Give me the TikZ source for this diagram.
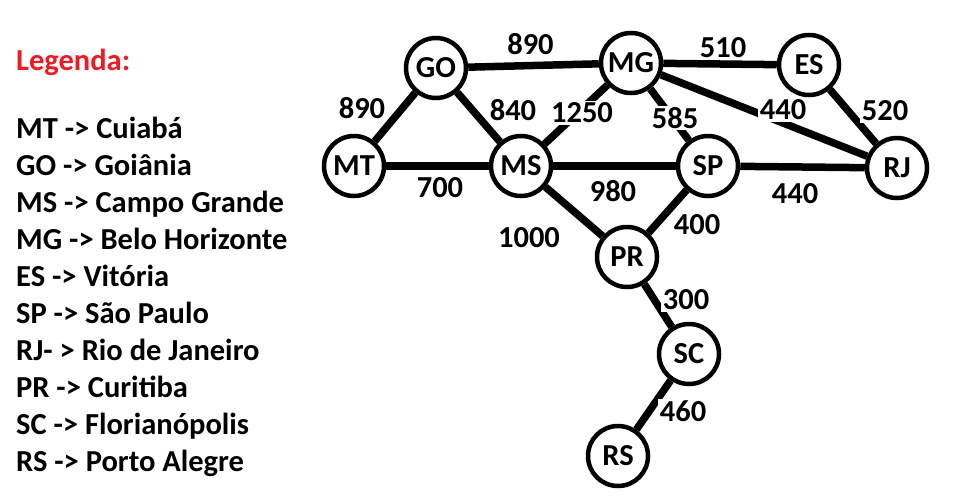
\documentclass[tikz,border=0pt]{standalone}
\usepackage{fontspec}
\setmainfont{Carlito}
\usepackage{xcolor}
\usetikzlibrary{positioning}
\definecolor{legred}{RGB}{237,28,36}

\begin{document}
\begin{tikzpicture}[
  x=1pt, y=-1pt,
  city/.style={circle, draw=black, line width=4.5pt, fill=white,
               minimum size=60pt, inner sep=0pt,
               font=\fontsize{30.5}{36}\selectfont\bfseries},
  road/.style={line width=7.5pt, black},
  dist/.style={fill=white, inner sep=1.5pt,
               font=\fontsize{30.5}{36}\selectfont\bfseries},
  legend/.style={anchor=base west, inner sep=0pt,
                 font=\fontsize{30.5}{36}\selectfont\bfseries},
]
  \useasboundingbox (0,0) rectangle (957,498);

  % ── Legend ──
  \node[legend, legred] (leghead) at (16,70) {Legenda:};
  \foreach \txt [count=\i from 0] in {MT -> Cuiabá, GO -> Goiânia,
      MS -> Campo Grande, MG -> Belo Horizonte, ES -> Vitória,
      SP -> São Paulo, RJ- > Rio de Janeiro, PR -> Curitiba,
      SC -> Florianópolis, RS -> Porto Alegre}
    \node[legend] (leg\i) at (16,138+37*\i) {\txt};

  % ── Cities ──
  \node[city] (go) at (436,68)  {GO};
  \node[city] (mg) at (631,63)  {MG};
  \node[city] (es) at (809,65)  {ES};
  \node[city] (mt) at (354,166) {MT};
  \node[city] (ms) at (521,166) {MS};
  \node[city] (sp) at (708,166) {SP};
  \node[city] (rj) at (897,168) {RJ};
  \node[city] (pr) at (627,257) {PR};
  \node[city] (sc) at (689,354) {SC};
  \node[city] (rs) at (618,456) {RS};

  % ── Roads ──
  \draw[road] (go) -- node[dist, xshift=-3pt,   yshift=21pt]   {890}  (mg);
  \draw[road] (go) -- node[dist, xshift=-33pt,  yshift=9pt]    {890}  (mt);
  \draw[road] (go) -- node[dist, xshift=34.5pt, yshift=7pt]    {840}  (ms);
  \draw[road] (ms) -- node[dist, xshift=6pt,    yshift=1.5pt]  {1250} (mg);
  \draw[road] (mg) -- node[dist, xshift=5.5pt,  yshift=-3.5pt] {585}  (sp);
  \draw[road] (mg) -- node[dist, xshift=3pt,    yshift=16pt]   {510}  (es);
  \draw[road] (mg) -- node[dist, xshift=19pt,   yshift=5.5pt]  {440}  (rj);
  \draw[road] (es) -- node[dist, xshift=32pt,   yshift=5.5pt]  {520}  (rj);
  \draw[road] (mt) -- node[dist, xshift=2.5pt,  yshift=-22pt]  {700}  (ms);
  \draw[road] (ms) -- node[dist, xshift=-1.5pt, yshift=-25pt]  {980}  (sp);
  \draw[road] (sp) -- node[dist, xshift=-7.5pt, yshift=-27pt]  {440}  (rj);
  \draw[road] (ms) -- node[dist, xshift=-45pt,  yshift=-26.5pt]{1000} (pr);
  \draw[road] (sp) -- node[dist, xshift=29.5pt, yshift=-13.5pt]{400}  (pr);
  \draw[road] (pr) -- node[dist, xshift=28pt,   yshift=5.5pt]  {300}  (sc);
  \draw[road] (sc) -- node[dist, xshift=29.5pt, yshift=-6pt]   {460}  (rs);
\end{tikzpicture}
\end{document}
